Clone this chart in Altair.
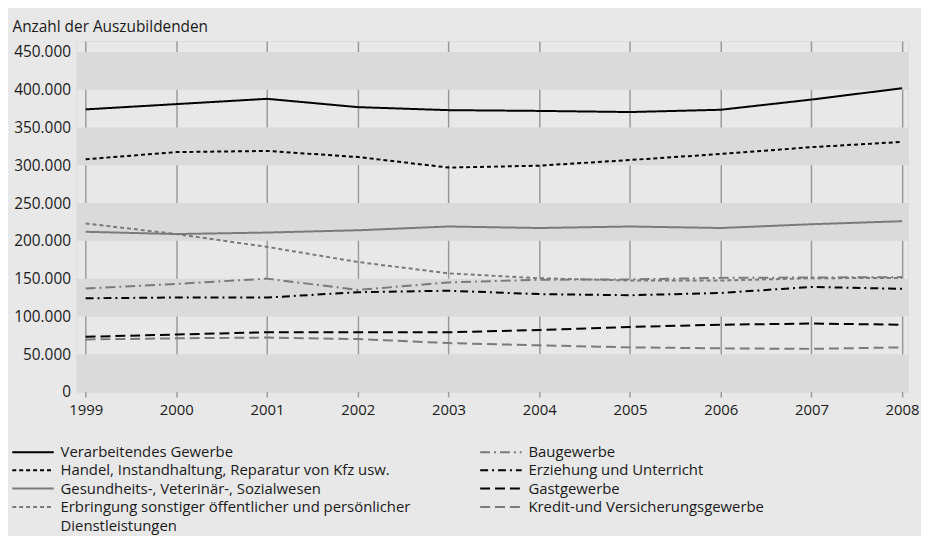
import altair as alt
import pandas as pd

years = [1999, 2000, 2001, 2002, 2003, 2004, 2005, 2006, 2007, 2008]

verarbeitendes = [374000, 381000, 388000, 377000, 373000, 372000, 370500, 373500, 387000, 402000]
handel = [308000, 317500, 319000, 311000, 297000, 299500, 307000, 315000, 324000, 331000]
gesundheit = [212000, 209000, 211000, 214000, 219000, 217000, 219000, 217000, 222000, 226000]
erbringung = [223000, 209000, 192000, 172000, 157000, 150500, 147500, 147500, 150500, 151000]
bau = [137000, 143000, 150000, 135000, 145000, 148500, 149000, 151000, 151500, 152000]
erziehung = [124000, 125000, 125000, 132000, 134000, 129500, 128000, 131000, 139000, 136500]
gast = [73000, 76000, 79000, 79000, 79000, 82000, 86000, 89000, 90500, 89000]
kredit = [69500, 71000, 72000, 70000, 64700, 61700, 59000, 57700, 57000, 59000]

series_names = [
    "Verarbeitendes Gewerbe",
    "Handel, Instandhaltung, Reparatur von Kfz usw.",
    "Gesundheits-, Veterinär-, Sozialwesen",
    "Erbringung sonstiger öffentlicher und persönlicher Dienstleistungen",
    "Baugewerbe",
    "Erziehung und Unterricht",
    "Gastgewerbe",
    "Kredit-und Versicherungsgewerbe",
]
series_values = [verarbeitendes, handel, gesundheit, erbringung, bau, erziehung, gast, kredit]
series_colors = ["#000000", "#000000", "#7a7a7a", "#7a7a7a", "#7a7a7a", "#000000", "#000000", "#7a7a7a"]
series_dashes = [[1, 0], [4, 3], [1, 0], [4, 3], [10, 4, 2, 4], [8, 4, 2, 4], [10, 5], [10, 5]]

band_lows = [0, 100000, 200000, 300000, 400000]
band_size = 50000
y_ticks = [0, 50000, 100000, 150000, 200000, 250000, 300000, 350000, 400000, 450000]

rows = []
for name, vals in zip(series_names, series_values):
    for yr, v in zip(years, vals):
        rows.append({"Jahr": yr, "Wert": v, "Branche": name})
df = pd.DataFrame(rows)

bands = pd.DataFrame({"lo": band_lows, "hi": [b + band_size for b in band_lows]})

FONT = "Open Sans"
TEXT = "#1a1a1a"

x_scale = alt.Scale(domain=[1998.898, 2008.066], nice=False, zero=False)
y_scale = alt.Scale(domain=[0, 464500], nice=False, zero=False)

x_axis = alt.Axis(
    values=years, format="d", title=None, grid=True, gridColor="#9a9a9a",
    gridWidth=1.5, ticks=True, tickColor="#9a9a9a", tickWidth=1.5, tickSize=5,
    domain=False, labelPadding=6, labelFontSize=15, labelFont=FONT,
    labelColor=TEXT, labelFlush=False,
)
y_axis = alt.Axis(
    values=y_ticks, grid=False, ticks=False, domain=False,
    labelExpr="replace(format(datum.value, ','), ',', '.')",
    labelPadding=6, labelFontSize=15.5, labelFont=FONT, labelColor=TEXT,
    title="Anzahl der Auszubildenden", titleAngle=0, titleAlign="left",
    titleBaseline="middle", titleX=-65, titleY=-15, titleFontSize=15.5,
    titleFontWeight="normal", titleFont=FONT, titleColor=TEXT,
)

band_layer = alt.Chart(bands).mark_rect(color="#dadada").encode(
    y=alt.Y("lo:Q", scale=y_scale, axis=y_axis),
    y2="hi:Q",
)

lines_layer = alt.Chart(df).mark_line(strokeWidth=2).encode(
    x=alt.X("Jahr:Q", scale=x_scale, axis=x_axis),
    y=alt.Y("Wert:Q", scale=y_scale, axis=y_axis),
    color=alt.Color(
        "Branche:N",
        scale=alt.Scale(domain=series_names, range=series_colors),
        legend=alt.Legend(
            title=None, orient="none", legendX=-68, legendY=407, columns=2,
            symbolType="M-1,0H9", symbolSize=70, symbolStrokeWidth=2,
            labelFontSize=15, labelFont=FONT, labelColor=TEXT, labelOffset=37,
            labelLimit=600, rowPadding=2.5, columnPadding=65, padding=0,
            labelExpr="datum.label == 'Erbringung sonstiger öffentlicher und persönlicher Dienstleistungen' ? ['Erbringung sonstiger öffentlicher und persönlicher', 'Dienstleistungen'] : datum.label",
        ),
    ),
    strokeDash=alt.StrokeDash(
        "Branche:N",
        scale=alt.Scale(domain=series_names, range=series_dashes),
    ),
    detail="Branche:N",
)

chart = (
    alt.layer(band_layer, lines_layer)
    .properties(
        width=839,
        height=354,
        autosize=alt.AutoSizeParams(type="none"),
        padding={"left": 69, "top": 31, "right": 13, "bottom": 143},
        background="#e8e8e8",
    )
    .configure_view(stroke=None)
    .configure(style={"guide-label": {"lineHeight": 19}})
)

chart.save("out.html", embed_options={"renderer": "svg", "actions": False})
